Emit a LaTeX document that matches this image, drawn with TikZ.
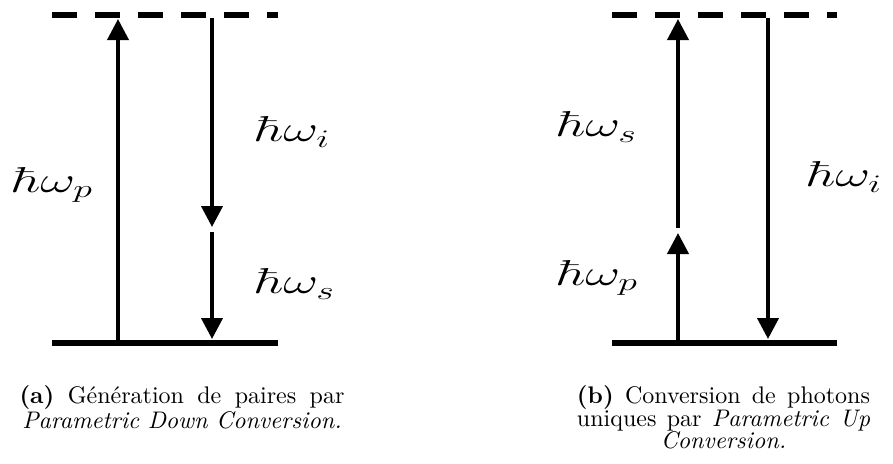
\RequirePackage{fix-cm}
\documentclass[tikz,border=0pt]{standalone}
\usetikzlibrary{arrows.meta}
\begin{document}
\begin{tikzpicture}[x=1pt,y=-1pt,
  levelline/.style={line width=6pt},
  virtualline/.style={line width=6pt, dash pattern=on 25pt off 18pt},
  photon/.style={line width=4pt, -{Triangle[length=21pt,width=21pt]}},
  lbl/.style={inner sep=0pt, font=\fontsize{36}{40}\selectfont, xscale=1.5, anchor=west},
  capstyle/.style={inner sep=0pt, font=\fontsize{10}{9.4}\selectfont, scale=2.4, align=center, anchor=north}]
\useasboundingbox (0,0) rectangle (893,463);
% ---- (a) PDC
\coordinate (aTL) at (52,15);  \coordinate (aTR) at (278,15);
\coordinate (aBL) at (52,343); \coordinate (aBR) at (278,343);
\draw[virtualline] (aTL) -- (aTR);
\draw[levelline] (aBL) -- (aBR);
\coordinate (aP0) at (118,343); \coordinate (aP1) at (118,19);
\coordinate (aI0) at (212,18);  \coordinate (aI1) at (212,227);
\coordinate (aS0) at (212,232); \coordinate (aS1) at (212,339);
\draw[photon] (aP0) -- (aP1);
\draw[photon] (aI0) -- (aI1);
\draw[photon] (aS0) -- (aS1);
\node[lbl] (aLp) at (12,185) {$\hbar\omega_p$};
\node[lbl] (aLi) at (255,132) {$\hbar\omega_i$};
\node[lbl] (aLs) at (255,284) {$\hbar\omega_s$};
\node[capstyle] (capa) at (182,385) {\makebox[135.4pt][s]{\textbf{(a)} Génération de paires par}\\\textit{Parametric Down Conversion.}};
% ---- (b) PUC
\coordinate (bTL) at (612,15);  \coordinate (bTR) at (837,15);
\coordinate (bBL) at (612,343); \coordinate (bBR) at (837,343);
\draw[virtualline] (bTL) -- (bTR);
\draw[levelline] (bBL) -- (bBR);
\coordinate (bP0) at (678,343); \coordinate (bP1) at (678,233);
\coordinate (bS0) at (678,228); \coordinate (bS1) at (678,19);
\coordinate (bI0) at (768,18);  \coordinate (bI1) at (768,339);
\draw[photon] (bP0) -- (bP1);
\draw[photon] (bS0) -- (bS1);
\draw[photon] (bI0) -- (bI1);
\node[lbl] (bLs) at (557,127) {$\hbar\omega_s$};
\node[lbl] (bLp) at (557,278) {$\hbar\omega_p$};
\node[lbl] (bLi) at (807,177) {$\hbar\omega_i$};
\node[capstyle] (capb) at (723.5,385) {\makebox[122.1pt][s]{\textbf{(b)} Conversion de photons}\\\makebox[122.1pt][s]{uniques par \textit{Parametric Up}}\\\textit{Conversion.}};
\end{tikzpicture}
\end{document}
